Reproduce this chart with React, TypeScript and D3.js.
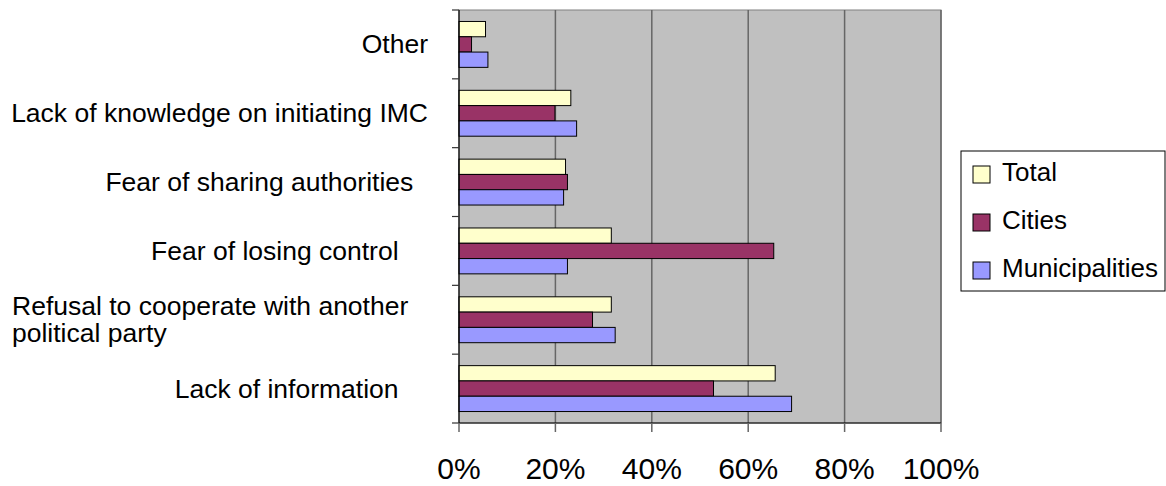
import React from "react";
import * as d3 from "d3";

// Obstacles to inter-municipal cooperation, share of respondents
const categories: string[][] = [
  ["Other"],
  ["Lack of knowledge on initiating IMC"],
  ["Fear of sharing authorities  "],
  ["Fear of losing control    "],
  ["Refusal to cooperate with another", "political party"],
  ["Lack of information    "],
];
const seriesNames = ["Total", "Cities", "Municipalities"];
const totalValues = [0.055, 0.232, 0.221, 0.316, 0.316, 0.656];
const citiesValues = [0.026, 0.199, 0.225, 0.653, 0.277, 0.528];
const municipalitiesValues = [0.06, 0.244, 0.217, 0.225, 0.324, 0.69];
const xTicks = [0, 0.2, 0.4, 0.6, 0.8, 1];

const seriesColors: Record<string, string> = {
  Total: "#ffffcc",
  Cities: "#993366",
  Municipalities: "#9999ff",
};

const W = 1166;
const H = 486;
const plot = { left: 459, right: 941, top: 10, bottom: 423 };
const FONT = "'Liberation Sans', Arial, Helvetica, sans-serif";

export default function App() {
  const seriesValues: Record<string, number[]> = {
    Total: totalValues,
    Cities: citiesValues,
    Municipalities: municipalitiesValues,
  };
  const keys = categories.map((c) => c.join(" "));

  const x = d3.scaleLinear().domain([0, 1]).range([plot.left, plot.right]);
  const y = d3.scaleBand<string>().domain(keys).range([plot.top, plot.bottom]).padding(0);
  const inner = d3
    .scaleBand<string>()
    .domain(seriesNames)
    .range([0, y.bandwidth()])
    .paddingInner(0)
    .paddingOuter(0.75);

  const boundaries = d3.range(keys.length + 1).map((i) => plot.top + i * y.step());

  return (
    <svg
      width={W}
      height={H}
      style={{ position: "absolute", left: 0, top: 0, background: "#fff" }}
      fontFamily={FONT}
    >
      {/* plot area */}
      <rect
        x={plot.left}
        y={plot.top}
        width={plot.right - plot.left}
        height={plot.bottom - plot.top}
        fill="#c0c0c0"
        stroke="#808080"
        strokeWidth={1}
      />
      {/* vertical gridlines */}
      {xTicks.slice(1).map((t) => (
        <line
          key={`g${t}`}
          x1={x(t)}
          x2={x(t)}
          y1={plot.top}
          y2={plot.bottom}
          stroke="#666"
          strokeWidth={1.5}
        />
      ))}

      {/* bars */}
      {keys.map((k, ci) =>
        seriesNames.map((s) => {
          const v = seriesValues[s][ci];
          return (
            <rect
              key={`${k}-${s}`}
              x={x(0)}
              y={(y(k) ?? 0) + (inner(s) ?? 0)}
              width={x(v) - x(0)}
              height={inner.bandwidth()}
              fill={seriesColors[s]}
              stroke="#000"
              strokeWidth={1}
            />
          );
        })
      )}

      {/* category axis */}
      <line x1={plot.left} x2={plot.left} y1={plot.top} y2={plot.bottom} stroke="#000" strokeWidth={1.2} />
      {boundaries.map((b, i) => (
        <line key={`yt${i}`} x1={plot.left - 7} x2={plot.left} y1={b} y2={b} stroke="#333" strokeWidth={1.2} />
      ))}
      {categories.map((lines, ci) => {
        const cy = (y(keys[ci]) ?? 0) + y.bandwidth() / 2;
        const lh = 27;
        const multi = lines.length > 1;
        return (
          <text
            key={`lbl${ci}`}
            fontSize={26.5}
            fill="#000"
            textAnchor={multi ? "start" : "end"}
            style={{ whiteSpace: "pre" }}
          >
            {lines.map((ln, li) => (
              <tspan
                key={li}
                x={multi ? 12 : 428}
                y={cy + 9 + (li - (lines.length - 1) / 2) * lh}
              >
                {ln}
              </tspan>
            ))}
          </text>
        );
      })}

      {/* value axis */}
      <line x1={plot.left} x2={plot.right} y1={plot.bottom} y2={plot.bottom} stroke="#000" strokeWidth={1.2} />
      {xTicks.map((t) => (
        <g key={`xt${t}`}>
          <line x1={x(t)} x2={x(t)} y1={plot.bottom} y2={plot.bottom + 9} stroke="#666" strokeWidth={1.5} />
          <text x={x(t)} y={479} fontSize={30} textAnchor="middle" fill="#000">
            {d3.format(".0%")(t)}
          </text>
        </g>
      ))}

      {/* legend */}
      <rect x={961} y={151} width={204} height={140} fill="#fff" stroke="#000" strokeWidth={1} />
      {seriesNames.map((s, i) => {
        const base = 181 + i * 48;
        return (
          <g key={`lg${s}`}>
            <rect x={973} y={base - 15} width={17} height={17} fill={seriesColors[s]} stroke="#000" strokeWidth={1} />
            <text x={1002} y={base} fontSize={26} fill="#000">
              {s}
            </text>
          </g>
        );
      })}
    </svg>
  );
}
